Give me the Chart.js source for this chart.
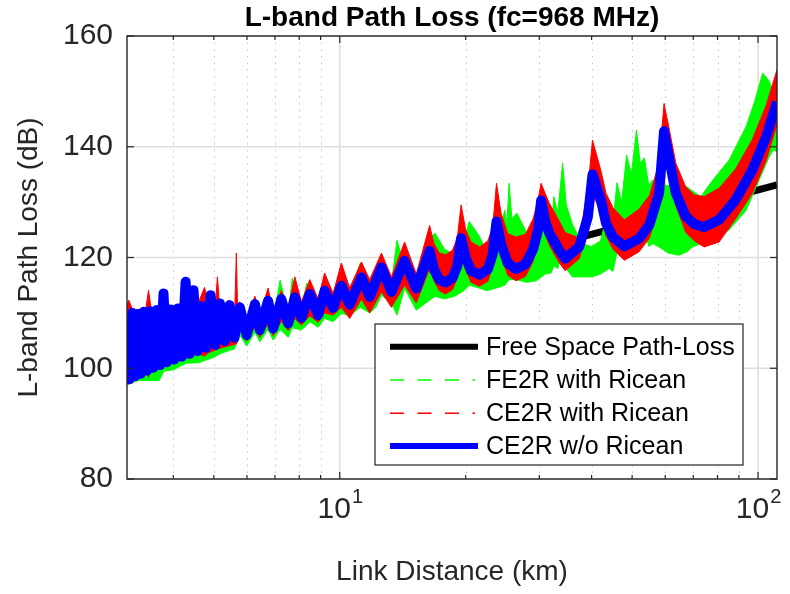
<!DOCTYPE html>
<html>
<head>
<meta charset="utf-8">
<title>L-band Path Loss</title>
<script src="https://cdn.jsdelivr.net/npm/chart.js@4.4.1/dist/chart.umd.min.js"></script>
<style>
  html, body { margin: 0; padding: 0; background: #fff; }
  #wrap { width: 790px; height: 594px; }
</style>
</head>
<body>
<div id="wrap"><canvas id="plc"></canvas></div>
<script>
const FONT = "'Liberation Sans', Arial, Helvetica, sans-serif";
const AXIS_COLOR = '#262626';

// free space path loss (km, dB)
const fsplDist = [3.1, 5, 10, 20, 50, 111];
const fsplLoss = [102.0, 106.1, 112.2, 118.2, 126.1, 133.1];

// CE2R without Ricean fading: two-ray peaks and troughs
const ce2rDist = [
  3.10, 3.14, 3.19, 3.24, 3.29, 3.34, 3.40, 3.46, 3.52, 3.58,
  3.65, 3.72, 3.79, 3.86, 3.94, 4.02, 4.10, 4.19, 4.28, 4.37,
  4.47, 4.57, 4.68, 4.79, 4.91, 5.04, 5.17, 5.31, 5.45, 5.60,
  5.77, 5.99, 6.27, 6.44, 6.74, 6.93, 7.25, 7.53, 7.81, 8.10,
  8.48, 8.88, 9.20, 9.64, 10.09, 10.56, 11.27, 11.79, 12.58, 13.29,
  14.29, 15.24, 16.40, 16.80, 17.30, 17.90, 18.60, 19.10, 19.50, 20.00,
  20.60, 21.60, 22.60, 23.20, 23.70, 24.30, 25.20, 26.40, 27.80, 29.00,
  29.80, 30.30, 31.00, 31.70, 33.50, 34.60, 37.40, 39.20, 40.20, 42.10,
  43.30, 45.00, 47.90, 51.90, 55.00, 58.00, 59.60, 61.40, 63.60, 67.20,
  70.50, 74.30, 80.70, 88.40, 96.90, 104.6, 111.0
];
const ce2rLoss = [
  104.0, 98.0, 110.0, 98.6, 109.8, 99.0, 110.2, 99.6, 110.3, 100.1,
  110.5, 100.6, 113.5, 101.1, 110.6, 101.6, 110.8, 102.1, 115.6, 102.6,
  114.1, 103.1, 111.2, 103.7, 113.2, 104.2, 111.7, 104.9, 111.4, 105.5,
  111.0, 106.0, 111.6, 106.9, 112.2, 107.2, 112.5, 108.1, 112.8, 109.1,
  113.4, 109.6, 114.0, 110.9, 114.9, 111.5, 116.4, 112.9, 118.2, 113.8,
  119.4, 114.4, 121.2, 117.8, 116.0, 115.5, 116.3, 118.5, 123.5, 120.0,
  117.6, 116.9, 117.9, 120.5, 126.5, 122.5, 119.0, 117.9, 118.8, 121.5,
  125.0, 130.3, 126.5, 124.4, 121.3, 119.8, 122.0, 127.4, 135.0, 130.4,
  126.2, 123.7, 122.0, 123.4, 125.9, 131.6, 142.8, 137.6, 131.6, 127.4,
  126.0, 125.5, 126.8, 130.4, 135.8, 141.8, 148.1
];

// CE2R with Ricean fading: spread of the faded samples
const ce2rRiceDist = [
  3.10, 3.13, 3.20, 3.44, 3.49, 3.54, 3.90, 4.00, 4.60, 4.75,
  4.85, 5.05, 5.10, 5.15, 5.60, 5.66, 5.70, 5.77, 5.99, 6.27,
  6.44, 6.74, 6.93, 7.25, 7.53, 7.81, 8.10, 8.48, 8.88, 9.20,
  9.64, 10.09, 10.56, 11.27, 11.79, 12.58, 13.29, 14.29, 15.24, 16.40,
  16.80, 17.30, 17.90, 18.60, 19.10, 19.50, 20.00, 20.60, 21.60, 22.60,
  23.20, 23.70, 24.30, 25.20, 26.40, 27.80, 29.00, 29.80, 30.30, 31.00,
  31.70, 33.50, 34.60, 37.40, 39.20, 40.20, 42.10, 43.30, 45.00, 47.90,
  51.90, 55.00, 58.00, 59.60, 61.40, 63.60, 67.20, 70.50, 74.30, 80.70,
  88.40, 96.90, 104.6, 111.0
];
const ce2rRiceHigh = [
  111.5, 112.3, 110.5, 110.8, 114.1, 110.8, 111.0, 111.2, 112.0, 114.6,
  112.0, 112.2, 116.5, 112.2, 108.5, 120.8, 110.0, 112.0, 109.0, 113.0,
  109.5, 114.5, 110.0, 114.0, 111.0, 116.5, 112.0, 116.0, 112.5, 117.2,
  113.5, 119.0, 114.5, 119.2, 116.0, 120.8, 116.5, 122.8, 117.0, 125.8,
  122.5, 120.8, 120.5, 121.3, 123.5, 129.5, 125.0, 122.8, 121.9, 123.0,
  125.5, 133.4, 128.0, 124.3, 123.7, 124.2, 127.0, 130.5, 133.4, 131.5,
  129.8, 126.5, 124.5, 123.5, 132.5, 141.2, 135.7, 131.6, 129.0, 126.8,
  128.7, 131.2, 137.0, 147.8, 143.0, 137.0, 132.7, 131.3, 131.0, 132.5,
  136.0, 141.3, 147.5, 153.9
];
const ce2rRiceLow = [
  99.5, 98.0, 99.0, 99.8, 98.4, 100.2, 100.6, 101.3, 102.6, 102.2,
  102.8, 103.3, 103.4, 103.6, 104.3, 104.4, 105.0, 107.0, 104.9, 107.5,
  105.6, 108.0, 105.9, 108.5, 106.8, 109.0, 107.8, 109.5, 108.3, 110.0,
  109.6, 111.0, 109.0, 112.5, 110.0, 113.8, 111.0, 115.0, 111.8, 118.0,
  115.8, 114.0, 113.4, 114.2, 116.3, 120.5, 117.8, 115.5, 114.8, 115.7,
  118.3, 123.0, 120.3, 116.8, 115.8, 116.6, 119.3, 122.8, 126.5, 124.3,
  122.2, 119.0, 117.6, 119.8, 125.2, 131.5, 128.2, 124.0, 121.5, 119.5,
  121.0, 123.5, 129.3, 139.0, 135.3, 129.3, 124.5, 123.0, 121.9, 122.8,
  127.0, 131.6, 137.5, 144.0
];

// FE2R with Ricean fading: spread of the faded samples
const fe2rRiceDist = [
  3.10, 3.30, 3.70, 3.80, 4.00, 4.18, 4.23, 4.28, 4.60, 5.00,
  5.20, 5.60, 5.77, 5.99, 6.27, 6.44, 6.74, 6.93, 7.20, 7.53,
  7.70, 8.10, 8.34, 8.48, 8.88, 9.20, 9.64, 10.09, 10.56, 11.20,
  11.79, 12.20, 12.58, 13.29, 13.70, 14.29, 15.24, 16.20, 16.90, 17.80,
  18.80, 19.80, 20.40, 21.50, 22.50, 23.70, 24.80, 25.10, 25.40, 25.80,
  26.50, 28.00, 29.50, 31.00, 32.00, 32.50, 33.20, 34.10, 34.80, 36.00,
  38.00, 40.00, 42.00, 44.00, 45.00, 46.00, 47.20, 48.50, 49.80, 51.20,
  52.30, 53.50, 54.80, 56.00, 58.00, 61.00, 64.60, 67.50, 69.70, 73.00,
  78.00, 85.30, 93.60, 98.00, 102.6, 106.0, 109.0, 111.0
];
const fe2rRiceHigh = [
  108.0, 109.0, 109.2, 109.3, 109.5, 110.0, 114.1, 110.0, 110.2, 110.5,
  110.8, 107.0, 110.0, 107.5, 110.6, 108.4, 111.2, 108.7, 115.9, 109.6,
  116.3, 110.6, 115.4, 112.4, 111.1, 113.0, 112.4, 113.9, 113.0, 119.0,
  114.4, 117.7, 117.2, 115.3, 123.1, 118.4, 115.9, 123.1, 124.4, 121.5,
  120.5, 123.0, 126.5, 124.0, 121.0, 123.5, 128.5, 126.0, 133.4, 127.0,
  128.0, 124.5, 124.0, 127.5, 124.8, 131.0, 128.0, 137.0, 129.5, 126.0,
  122.5, 122.0, 123.0, 129.0, 126.5, 133.5, 130.0, 138.5, 135.0, 143.0,
  137.0, 138.0, 133.0, 134.0, 133.0, 133.0, 132.5, 132.8, 132.0, 131.0,
  134.0, 137.6, 143.6, 148.0, 153.3, 152.0, 150.0, 146.0
];
const fe2rRiceLow = [
  97.0, 97.8, 97.8, 99.5, 99.7, 100.5, 100.6, 100.9, 101.0, 102.0,
  102.7, 103.5, 106.0, 104.0, 106.5, 104.8, 107.0, 105.1, 107.0, 105.6,
  107.3, 106.9, 107.8, 108.4, 107.4, 109.0, 108.4, 109.9, 109.5, 111.0,
  110.0, 111.0, 113.2, 111.8, 109.6, 114.4, 110.5, 112.0, 113.0, 112.5,
  113.0, 114.0, 115.0, 114.5, 114.0, 114.5, 115.0, 115.5, 116.0, 116.0,
  116.0, 115.5, 115.8, 117.0, 117.2, 118.5, 118.0, 121.0, 118.0, 116.5,
  116.5, 116.5, 117.0, 118.0, 117.5, 121.0, 120.0, 124.0, 123.0, 127.0,
  124.5, 125.0, 122.0, 122.5, 121.9, 120.8, 120.4, 121.0, 121.9, 122.5,
  123.0, 125.0, 128.5, 132.0, 135.5, 138.0, 139.5, 139.0
];

const seriesNames = ['Free Space Path-Loss', 'FE2R with Ricean', 'CE2R with Ricean', 'CE2R w/o Ricean'];
const yTicks = [80, 100, 120, 140, 160];
const xMajorTicks = [10, 100];
const xMinorTicks = [4, 5, 6, 7, 8, 9, 20, 30, 40, 50, 60, 70, 80, 90];
const xTickBase = '10';
const xTickExponents = ['1', '2'];

const pts = (xs, ys) => xs.map((x, i) => ({ x: x, y: ys[i] }));

// legend sample styles
const legendStyles = [
  { color: '#000000', width: 6, dash: [], len: 88 },
  { color: '#00ff00', width: 1.5, dash: [14, 13.5], len: 85 },
  { color: '#ff0000', width: 1.5, dash: [14, 13.5], len: 85 },
  { color: '#0000ff', width: 6, dash: [], len: 88 }
];

// grid underneath the data, box and inward ticks on top (MATLAB look)
const axesFrame = {
  id: 'axesFrame',
  beforeDatasetsDraw(chart) {
    const { ctx, chartArea: a, scales: { x, y } } = chart;
    ctx.save();
    ctx.lineWidth = 1;
    ctx.strokeStyle = '#c4c4c4';
    ctx.setLineDash([1.5, 5.2]);
    xMinorTicks.forEach(v => {
      const px = Math.round(x.getPixelForValue(v)) + 0.5;
      ctx.beginPath(); ctx.moveTo(px, a.top); ctx.lineTo(px, a.bottom); ctx.stroke();
    });
    ctx.setLineDash([]);
    ctx.strokeStyle = '#dedede';
    ctx.lineWidth = 1.5;
    xMajorTicks.forEach(v => {
      const px = x.getPixelForValue(v);
      ctx.beginPath(); ctx.moveTo(px, a.top); ctx.lineTo(px, a.bottom); ctx.stroke();
    });
    yTicks.forEach(v => {
      const py = y.getPixelForValue(v);
      ctx.beginPath(); ctx.moveTo(a.left, py); ctx.lineTo(a.right, py); ctx.stroke();
    });
    ctx.restore();
  },
  afterDatasetsDraw(chart) {
    const { ctx, chartArea: a, scales: { x, y } } = chart;
    ctx.save();
    ctx.strokeStyle = AXIS_COLOR;
    ctx.lineWidth = 1.4;
    ctx.strokeRect(a.left, a.top, a.right - a.left, a.bottom - a.top);
    ctx.lineWidth = 1.2;
    const tick = (x0, y0, x1, y1) => { ctx.beginPath(); ctx.moveTo(x0, y0); ctx.lineTo(x1, y1); ctx.stroke(); };
    xMajorTicks.forEach(v => {
      const px = x.getPixelForValue(v);
      tick(px, a.bottom, px, a.bottom - 7);
      tick(px, a.top, px, a.top + 7);
    });
    xMinorTicks.forEach(v => {
      const px = x.getPixelForValue(v);
      tick(px, a.bottom, px, a.bottom - 4);
      tick(px, a.top, px, a.top + 4);
    });
    yTicks.forEach(v => {
      const py = y.getPixelForValue(v);
      tick(a.left, py, a.left + 7, py);
      tick(a.right, py, a.right - 7, py);
    });
    ctx.restore();
  },
  afterDraw(chart) {
    const { ctx, chartArea: a, scales: { x } } = chart;
    ctx.save();
    // powers of ten under the log axis
    ctx.fillStyle = AXIS_COLOR;
    ctx.textAlign = 'left';
    ctx.textBaseline = 'alphabetic';
    xMajorTicks.forEach((v, i) => {
      ctx.font = '30px ' + FONT;
      const bw = ctx.measureText(xTickBase).width;
      ctx.font = '20px ' + FONT;
      const ew = ctx.measureText(xTickExponents[i]).width;
      const left = x.getPixelForValue(v) - (bw + ew) / 2;
      ctx.font = '30px ' + FONT;
      ctx.fillText(xTickBase, left, a.bottom + 39);
      ctx.font = '20px ' + FONT;
      ctx.fillText(xTickExponents[i], left + bw + 1, a.bottom + 24);
    });

    // legend box inside the axes
    const bx = a.left + 248, by = a.top + 288, bw = 368, bh = 141;
    ctx.fillStyle = '#ffffff';
    ctx.fillRect(bx, by, bw, bh);
    ctx.strokeStyle = AXIS_COLOR;
    ctx.lineWidth = 1.2;
    ctx.strokeRect(bx, by, bw, bh);
    const rows = [22.7, 56, 89.3, 122];
    ctx.font = '25px ' + FONT;
    ctx.textBaseline = 'middle';
    seriesNames.forEach((name, i) => {
      const s = legendStyles[i];
      const ry = by + rows[i];
      ctx.strokeStyle = s.color;
      ctx.lineWidth = s.width;
      ctx.setLineDash(s.dash);
      ctx.beginPath(); ctx.moveTo(bx + 15, ry); ctx.lineTo(bx + 15 + s.len, ry); ctx.stroke();
      ctx.setLineDash([]);
      ctx.fillStyle = '#000000';
      ctx.fillText(name, bx + 111, ry + 1);
    });
    ctx.restore();
  }
};

const lineBase = { pointRadius: 0, tension: 0, clip: 0, fill: false };

new Chart(document.getElementById('plc'), {
  type: 'line',
  data: {
    datasets: [
      { ...lineBase, label: seriesNames[3], data: pts(ce2rDist, ce2rLoss),
        borderColor: '#0000ff', borderWidth: 10, borderJoinStyle: 'round', order: 0 },
      { ...lineBase, label: seriesNames[2] + ' (low)', data: pts(ce2rRiceDist, ce2rRiceLow),
        borderColor: '#ff0000', borderWidth: 1, order: 1 },
      { ...lineBase, label: seriesNames[2], data: pts(ce2rRiceDist, ce2rRiceHigh),
        borderColor: '#ff0000', borderWidth: 1, backgroundColor: '#ff0000', fill: 1, order: 1 },
      { ...lineBase, label: seriesNames[1] + ' (low)', data: pts(fe2rRiceDist, fe2rRiceLow),
        borderColor: '#00ff00', borderWidth: 1, order: 2 },
      { ...lineBase, label: seriesNames[1], data: pts(fe2rRiceDist, fe2rRiceHigh),
        borderColor: '#00ff00', borderWidth: 1, backgroundColor: '#00ff00', fill: 3, order: 2 },
      { ...lineBase, label: seriesNames[0], data: pts(fsplDist, fsplLoss),
        borderColor: '#000000', borderWidth: 7, order: 3 }
    ]
  },
  options: {
    responsive: true,
    maintainAspectRatio: false,
    animation: false,
    events: [],
    layout: { padding: { left: 0, right: 13, top: 0, bottom: 0 } },
    plugins: {
      legend: { display: false },
      tooltip: { enabled: false },
      title: {
        display: true,
        fullSize: false,
        text: 'L-band Path Loss (fc=968 MHz)',
        color: '#000000',
        font: { family: FONT, size: 28, weight: 'bold', lineHeight: 1 },
        padding: { top: 4, bottom: 4 }
      }
    },
    scales: {
      x: {
        type: 'logarithmic',
        min: 3.1,
        max: 111,
        grid: { display: false, drawTicks: false },
        border: { display: false },
        ticks: { display: false },
        title: {
          display: true,
          text: 'Link Distance (km)',
          color: AXIS_COLOR,
          font: { family: FONT, size: 28 },
          padding: { top: 0, bottom: 5 }
        },
        afterFit(scale) { scale.height = 115; }
      },
      y: {
        type: 'linear',
        min: 80,
        max: 160,
        grid: { display: false, drawTicks: false },
        border: { display: false },
        ticks: { stepSize: 20, color: AXIS_COLOR, padding: 14, font: { family: FONT, size: 30 } },
        afterBuildTicks(scale) { scale.ticks = yTicks.map(v => ({ value: v })); },
        title: {
          display: true,
          text: 'L-band Path Loss (dB)',
          color: AXIS_COLOR,
          font: { family: FONT, size: 28 },
          padding: { top: 12, bottom: 0 }
        },
        afterFit(scale) { scale.width = 127; }
      }
    }
  },
  plugins: [axesFrame]
});
</script>
</body>
</html>
